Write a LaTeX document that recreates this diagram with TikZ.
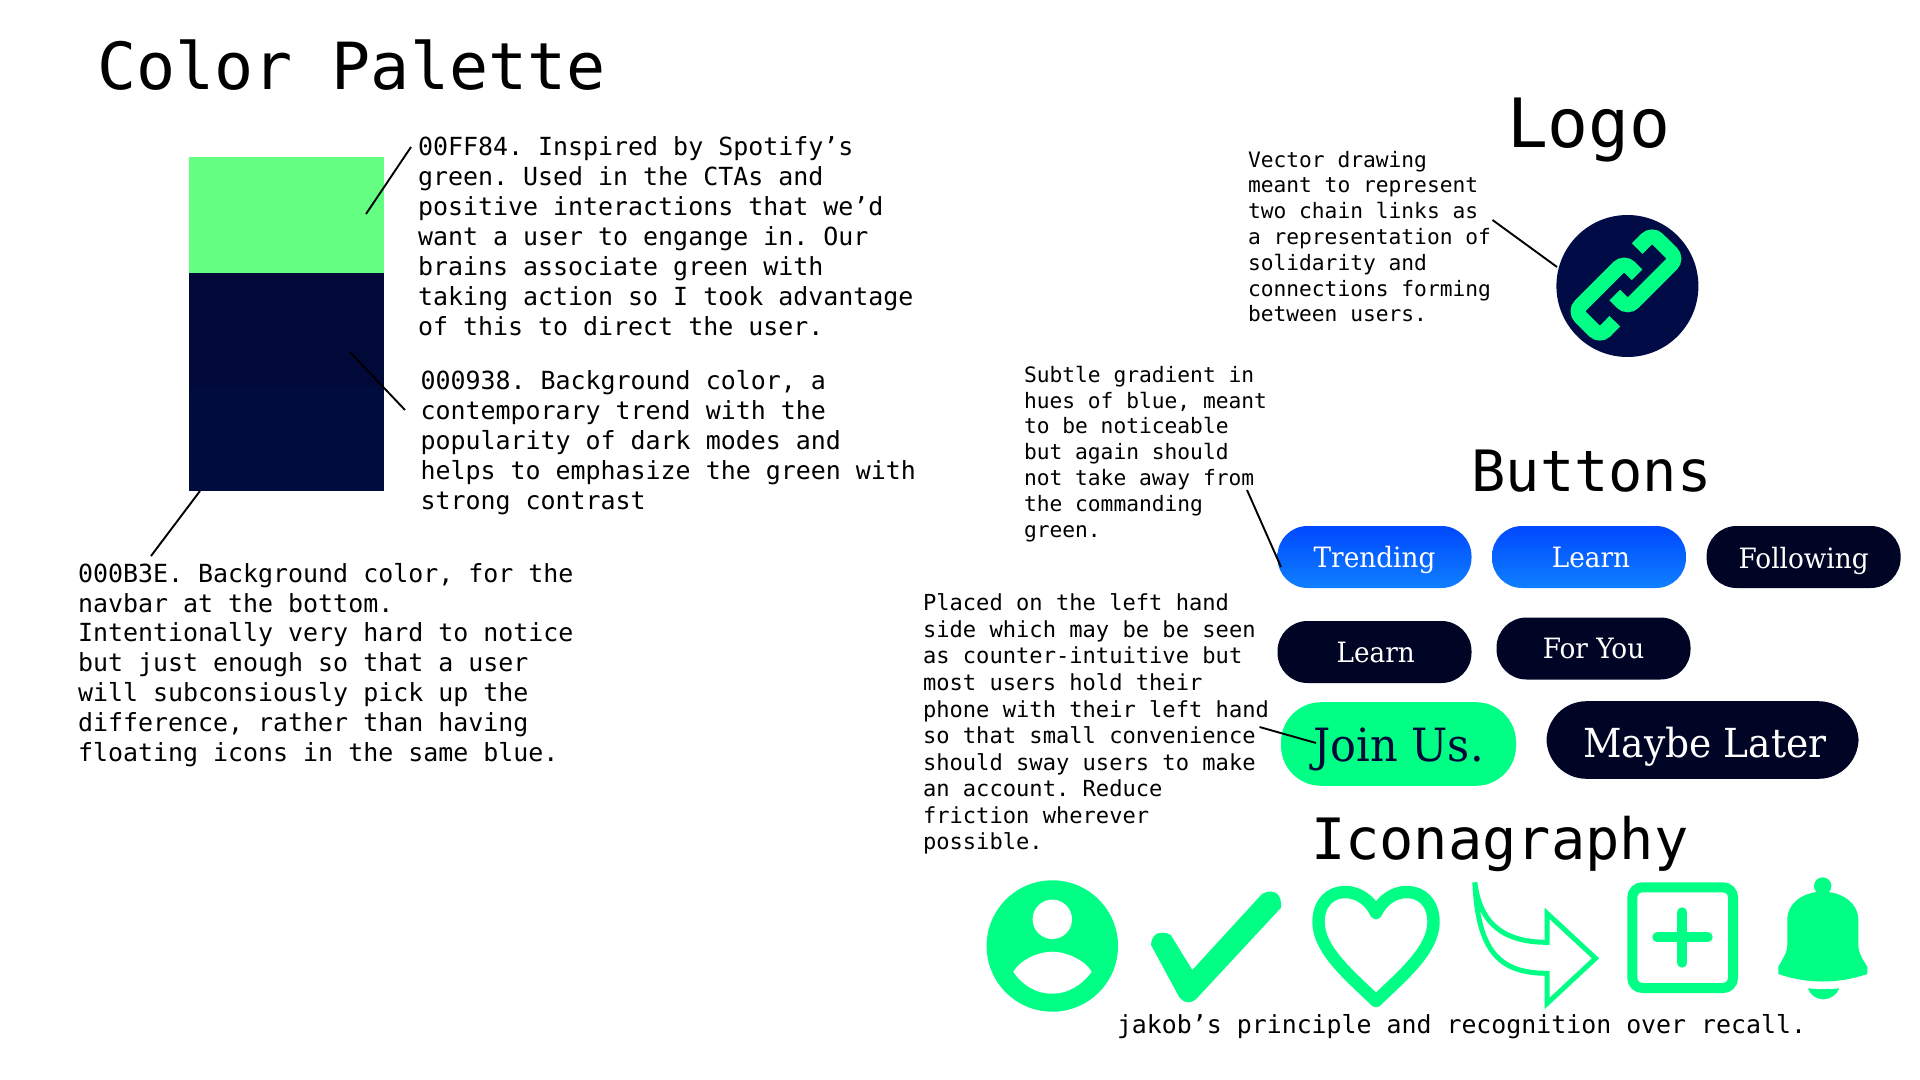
\documentclass[tikz,border=0pt]{standalone}
\usepackage{fontspec}
\setmainfont{DejaVu Sans Mono}
\newfontfamily\slab{DejaVu Serif}[FakeStretch=0.94]
\definecolor{brandgreen}{HTML}{00FF84}
\definecolor{softgreen}{HTML}{64FF82}
\definecolor{navyA}{HTML}{000938}
\definecolor{navyB}{HTML}{000B3E}
\definecolor{logonavy}{HTML}{010C46}
\definecolor{btnnavy}{HTML}{000525}
\definecolor{blueTop}{HTML}{0048FF}
\definecolor{blueBot}{HTML}{0F80FF}
\tikzset{
  swatch/.style={inner sep=0pt,outer sep=0pt,anchor=north west,minimum width=97.7pt},
  para/.style={inner sep=0pt,outer sep=0pt,anchor=north west,align=left,text=black,font=\fontsize{12.47pt}{14.97pt}\selectfont\frenchspacing},
  note/.style={inner sep=0pt,outer sep=0pt,anchor=north west,align=left,text=black,font=\fontsize{10.62pt}{12.9pt}\selectfont\frenchspacing},
  wide note/.style={note,font=\fontsize{11.05pt}{13.27pt}\selectfont\frenchspacing},
  heading/.style={inner sep=0pt,outer sep=0pt,anchor=base west,text=black},
  leader/.style={draw=black,line width=0.95pt},
  pill/.style={inner sep=0pt,outer sep=0pt,minimum width=97pt,minimum height=31pt,rounded corners=15pt,
     text=white,font=\slab\fontsize{14pt}{16pt}\selectfont,text height=10pt,text depth=0pt},
  darkpill/.style={pill,fill=btnnavy},
  bluepill/.style={pill,top color=blueTop,bottom color=blueBot},
  bigpill/.style={inner sep=0pt,outer sep=0pt,rounded corners=20pt,font=\slab\fontsize{22.9pt}{24pt}\selectfont,text height=17pt,text depth=0pt},
  icon/.style={fill=brandgreen,draw=none},
  iconline/.style={draw=brandgreen,fill=none}
}
\begin{document}
\begin{tikzpicture}[x=0.5pt,y=-0.5pt]
\useasboundingbox (0,0) rectangle (1920,1080);

% Colour palette
\node[heading,font=\fontsize{32.5pt}{36pt}\selectfont] (tpal) at (97,90) {Color Palette};
\node[swatch,fill=softgreen,minimum height=58pt] (sw1) at (189,157) {};
\node[swatch,fill=navyA,minimum height=56.5pt] (sw2) at (189,273) {};
\node[swatch,fill=navyB,minimum height=52.5pt] (sw3) at (189,386) {};

\node[para] (p1) at (418,136.5) {00FF84. Inspired by Spotify’s\\green. Used in the CTAs and\\positive interactions that we’d\\want a user to engange in. Our\\brains associate green with\\taking action so I took advantage\\of this to direct the user.};
\node[para] (p2) at (420.5,370.5) {000938. Background color, a\\contemporary trend with the\\popularity of dark modes and\\helps to emphasize the green with\\strong contrast};
\node[para] (p3) at (78,563) {000B3E. Background color, for the\\navbar at the bottom.\\Intentionally very hard to notice\\but just enough so that a user\\will subconsiously pick up the\\difference, rather than having\\floating icons in the same blue.};

\coordinate (l1a) at (411,147); \coordinate (l1b) at (366,214);
\coordinate (l2a) at (350,352); \coordinate (l2b) at (405,410);
\coordinate (l3a) at (200,491); \coordinate (l3b) at (151,556);
\draw[leader] (l1a) -- (l1b);
\draw[leader] (l2a) -- (l2b);
\draw[leader] (l3a) -- (l3b);

% Logo
\node[heading,font=\fontsize{34pt}{38pt}\selectfont] (tlogo) at (1507,148) {Logo};
\node[note] (nlogo) at (1248,151) {Vector drawing\\meant to represent\\two chain links as\\a representation of\\solidarity and\\connections forming\\between users.};
\node[circle,fill=logonavy,minimum size=71pt,inner sep=0pt,outer sep=0pt] (logo) at (1627.4,286) {};
\begin{scope}[shift={(1626,285)},x=0.54pt,y=-0.54pt]
\draw[brandgreen,line width=7.5pt,rounded corners=4pt] (-10.4,33.6) -- (-24.2,47.5) -- (-47.4,24.3) -- (-1.7,-21.4) -- (10.3,-9.4);
\draw[brandgreen,line width=7.5pt,rounded corners=4pt] (10.3,-33.7) -- (24.1,-47.5) -- (47.3,-24.4) -- (1.6,21.3) -- (-10.4,9.3);
\end{scope}
\coordinate (l4a) at (1492.5,220); \coordinate (l4b) at (1557,267);
\draw[leader] (l4a) -- (l4b);

% Buttons
\node[heading,font=\fontsize{28.5pt}{32pt}\selectfont] (tbtn) at (1471.4,491) {Buttons};
\node[note] (nbtn) at (1024,366) {Subtle gradient in\\hues of blue, meant\\to be noticeable\\but again should\\not take away from\\the commanding\\green.};
\node[bluepill] (b1) at (1374.5,557) {Trending};
\node[bluepill] (b2) at (1589,557) {\kern2pt Learn};
\node[darkpill,text height=11.5pt] (b3) at (1803.6,557) {Following};
\node[darkpill] (b4) at (1374.5,652) {\kern1.2pt Learn};
\node[darkpill] (b5) at (1593.5,648.5) {For You};
\node[bigpill,fill=brandgreen,text=navyA,minimum width=117.5pt,minimum height=41.8pt] (b6) at (1398.5,744) {Join Us.};
\node[bigpill,fill=btnnavy,text=white,minimum width=156pt,minimum height=38.8pt,font=\slab\fontsize{20pt}{24pt}\selectfont] (b7) at (1702.5,740) {\kern2.5pt Maybe Later};
\node[wide note] (njoin) at (923,594) {Placed on the left hand\\side which may be be seen\\as counter-intuitive but\\most users hold their\\phone with their left hand\\so that small convenience\\should sway users to make\\an account. Reduce\\friction wherever\\possible.};
\coordinate (l5a) at (1247,490); \coordinate (l5b) at (1281,567);
\coordinate (l6a) at (1259.5,727); \coordinate (l6b) at (1316,743);
\draw[leader] (l5a) -- (l5b);
\draw[leader] (l6a) -- (l6b);

% Iconography
\node[heading,font=\fontsize{28.5pt}{32pt}\selectfont] (ticon) at (1311,859.5) {Iconagraphy};
\node[para,font=\fontsize{12.44pt}{15pt}\selectfont] (cap) at (1117,1014) {jakob’s principle and recognition over recall.};

% person
\fill[icon] (1052.3,946) circle[radius=65.7];
\fill[white] (1052.3,919.3) circle[radius=19.7];
\fill[white] (1013.3,971.7) .. controls (1020,960) and (1038,951.7) .. (1052.3,951.7) .. controls (1066,951.7) and (1085,960) .. (1091.7,971.7) .. controls (1082,985) and (1068,993.7) .. (1052.3,993.7) .. controls (1036,993.7) and (1022,985) .. (1013.3,971.7) -- cycle;
% check
\fill[icon] (1151,945) .. controls (1151.5,937) and (1155,932.7) .. (1161.7,932.7) .. controls (1165,932.7) and (1168,933) .. (1170.7,935) -- (1192.3,970) -- (1262,894) .. controls (1265,891.7) and (1268,891.7) .. (1272,891.7) .. controls (1277,891.7) and (1281,897) .. (1281,903.3) -- (1281,907.7) -- (1198.3,996.7) .. controls (1195,1001) and (1191,1002.3) .. (1188.3,1002.3) .. controls (1185,1002.3) and (1181,1000) .. (1179,996.7) -- cycle;
% heart
\draw[iconline,line width=6.2pt,line join=round] (1376,1001) .. controls (1350,976) and (1318.5,950) .. (1318.5,922) .. controls (1318.5,903) and (1330,892) .. (1345,892) .. controls (1358,892) and (1370,900) .. (1376,913) .. controls (1382,900) and (1394,892) .. (1407,892) .. controls (1422,892) and (1433.5,903) .. (1433.5,922) .. controls (1433.5,950) and (1402,976) .. (1376,1001) -- cycle;
% share arrow
\draw[iconline,line width=2.5pt,line join=miter,miter limit=10] (1474.8,882.3) .. controls (1480,925) and (1505,942.3) .. (1547.2,942.3) -- (1547.2,913.5) -- (1595.5,958.3) -- (1547.2,1003.3) -- (1547.2,973.3) .. controls (1498,973.3) and (1478,950) .. (1474.8,882.3);
% plus
\draw[iconline,line width=5pt,rounded corners=5pt] (1632.3,887.3) rectangle (1733,988);
\draw[iconline,line width=5pt,line cap=round] (1682.3,912.3) -- (1682.3,962.7);
\draw[iconline,line width=5pt,line cap=round] (1657.3,937.3) -- (1707.7,937.3);
% bell
\fill[icon] (1822.7,886) circle[radius=8.7];
\fill[icon] (1787.3,920) .. controls (1787.3,903) and (1803,891.7) .. (1822.7,891.7) .. controls (1842,891.7) and (1858.3,903) .. (1858.3,920) -- (1858.3,945) .. controls (1858.3,953) and (1863,960) .. (1867.3,966.7) -- (1867.3,974) .. controls (1838,984) and (1807,984) .. (1778.3,974) -- (1778.3,966.7) .. controls (1782,960) and (1787.3,953) .. (1787.3,945) -- cycle;
\fill[icon] (1808,988.3) .. controls (1818,989.5) and (1829,989.5) .. (1839.3,988.3) .. controls (1837,995) and (1830,999.3) .. (1823.3,999.3) .. controls (1816,999.3) and (1810,995) .. (1808,988.3) -- cycle;
\end{tikzpicture}
\end{document}
